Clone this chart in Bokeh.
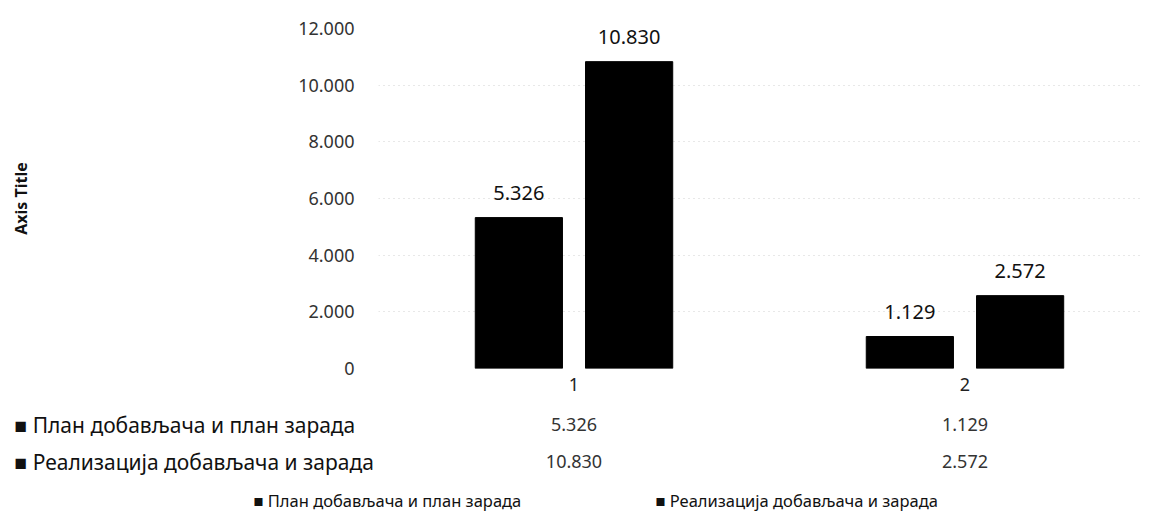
from bokeh.plotting import figure
from bokeh.models import Range1d, FixedTicker, ColumnDataSource
from bokeh.layouts import column
from bokeh.core.properties import value
from bokeh.embed import file_html
from bokeh.resources import INLINE

# ---------------- data ----------------
categories = ["1", "2"]
series_names = ["План добављача и план зарада", "Реализација добављача и зарада"]
plan_values = [5326, 1129]
real_values = [10830, 2572]
y_ticks = [0, 2000, 4000, 6000, 8000, 10000, 12000]
y_tick_labels = ["0", "2.000", "4.000", "6.000", "8.000", "10.000", "12.000"]
axis_title = "Axis Title"


def fmt(v):
    return f"{v:,}".replace(",", ".")


# ---------------- layout ----------------
W = 1142
H1, H2 = 400, 113          # chart part, data-table part
BL, BR, BT, BB = 378, 0, 28, 32
X_START, X_END = 0.5, 2.454
Y_START, Y_END = 0, 12000
BAR_W = 0.223
OFFSET = 0.141
FONT = "Noto Sans"

frame_w = W - BL - BR
px_per_x = frame_w / (X_END - X_START)
XT_START = X_START - BL / px_per_x
XT_END = X_END + BR / px_per_x


def px2x(px):  # page pixel -> data x (table figure)
    return XT_START + px / px_per_x


xs = [i + 1 for i in range(len(categories))]

# ---------------- main chart ----------------
p = figure(width=W, height=H1,
           x_range=Range1d(X_START, X_END), y_range=Range1d(Y_START, Y_END),
           output_backend="svg", toolbar_location=None,
           min_border_left=BL, min_border_right=BR,
           min_border_top=BT, min_border_bottom=BB)
p.frame_align = False
p.outline_line_color = None
p.background_fill_color = "white"
p.border_fill_color = "white"

src_plan = ColumnDataSource(dict(x=[x - OFFSET for x in xs], top=plan_values,
                                 label=[fmt(v) for v in plan_values]))
src_real = ColumnDataSource(dict(x=[x + OFFSET for x in xs], top=real_values,
                                 label=[fmt(v) for v in real_values]))

p.vbar(x="x", top="top", width=BAR_W, source=src_plan,
       fill_color="black", line_color="black", legend_label=series_names[0])
p.vbar(x="x", top="top", width=BAR_W, source=src_real,
       fill_color="black", line_color="black", legend_label=series_names[1])
p.legend.visible = False  # legend is drawn in the table strip below

for src in (src_plan, src_real):
    p.text(x="x", y="top", text="label", source=src, text_align="center",
           text_baseline="middle", y_offset=-25, text_font=value(FONT),
           text_font_size="20px", text_color="#111111")

p.yaxis.ticker = FixedTicker(ticks=y_ticks)
p.yaxis.major_label_overrides = dict(zip(y_ticks, y_tick_labels))
p.yaxis.axis_line_color = None
p.yaxis.major_tick_line_color = None
p.yaxis.minor_tick_line_color = None
p.yaxis.major_tick_out = 0
p.yaxis.major_tick_in = 0
p.yaxis.major_label_standoff = 24
p.yaxis.major_label_text_font = FONT
p.yaxis.major_label_text_font_size = "18px"
p.yaxis.major_label_text_color = "#333333"
p.yaxis.axis_label = axis_title
p.yaxis.axis_label_standoff = 263
p.yaxis.axis_label_text_font = FONT
p.yaxis.axis_label_text_font_size = "16px"
p.yaxis.axis_label_text_font_style = "bold"
p.yaxis.axis_label_text_color = "#111111"

p.xaxis.ticker = FixedTicker(ticks=xs)
p.xaxis.major_label_overrides = dict(zip(xs, categories))
p.xaxis.axis_line_color = None
p.xaxis.major_tick_line_color = None
p.xaxis.minor_tick_line_color = None
p.xaxis.major_tick_out = 0
p.xaxis.major_tick_in = 0
p.xaxis.major_label_standoff = 9
p.xaxis.major_label_text_font = FONT
p.xaxis.major_label_text_font_size = "18px"
p.xaxis.major_label_text_color = "#222222"

p.xgrid.visible = False
p.ygrid.grid_line_color = "#d0d0d0"
p.ygrid.grid_line_dash = "1 4"

# ---------------- data table + legend ----------------
t = figure(width=W, height=H2,
           x_range=Range1d(XT_START, XT_END), y_range=Range1d(H1 + H2, H1),
           output_backend="svg", toolbar_location=None,
           x_axis_location=None, y_axis_location=None,
           min_border_left=0, min_border_right=0,
           min_border_top=0, min_border_bottom=0)
t.frame_align = False
t.outline_line_color = None
t.xgrid.visible = False
t.ygrid.visible = False
t.background_fill_color = "white"
t.border_fill_color = "white"

rows_y = [424, 461]
row_src = ColumnDataSource(dict(x=[px2x(14)] * 2, y=rows_y,
                                text=["■ " + n for n in series_names]))
t.text(x="x", y="y", text="text", source=row_src, text_align="left",
       text_baseline="middle", text_font=value(FONT), text_font_size="21px",
       text_color="#111111")

val_src = ColumnDataSource(dict(
    x=xs + xs,
    y=[rows_y[0]] * len(xs) + [rows_y[1]] * len(xs),
    text=[fmt(v) for v in plan_values] + [fmt(v) for v in real_values]))
t.text(x="x", y="y", text="text", source=val_src, text_align="center",
       text_baseline="middle", text_font=value(FONT), text_font_size="18px",
       text_color="#333333")

# legend row
legend_src = ColumnDataSource(dict(x=[px2x(253), px2x(655)], y=[500, 500],
                                   text=["■ " + n for n in series_names]))
t.text(x="x", y="y", text="text", source=legend_src, text_align="left",
       text_baseline="middle", text_font=value(FONT), text_font_size="16.5px",
       text_color="#111111")

layout = column(p, t, spacing=0)
open("out.html", "w").write(file_html(layout, INLINE))
